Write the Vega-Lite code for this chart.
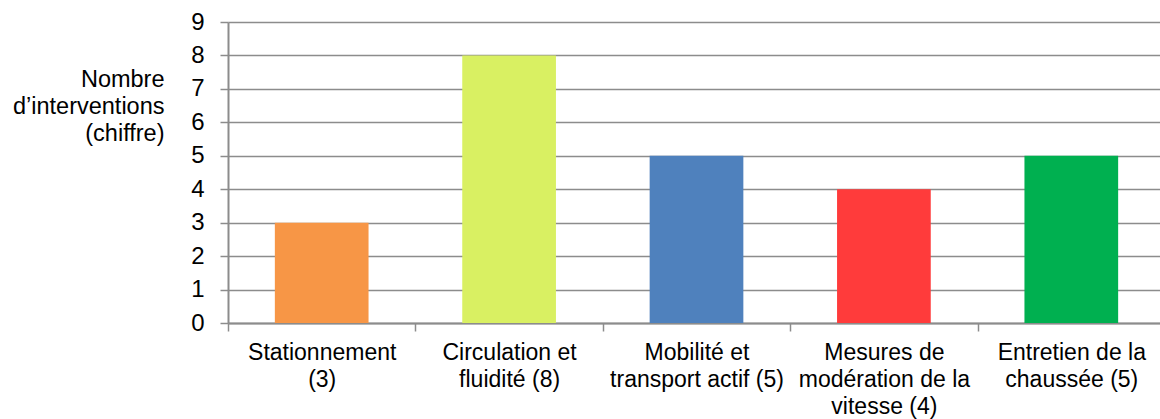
{
  "$schema": "https://vega.github.io/schema/vega-lite/v6.json",
  "autosize": "none",
  "width": 932,
  "height": 301,
  "padding": {"left": 228, "top": 22, "right": 0, "bottom": 96},
  "background": "white",
  "data": {
    "values": [
      {"categorie": "Stationnement\n(3)", "nombre": 3},
      {"categorie": "Circulation et\nfluidité (8)", "nombre": 8},
      {"categorie": "Mobilité et\ntransport actif (5)", "nombre": 5},
      {"categorie": "Mesures de\nmodération de la\nvitesse (4)", "nombre": 4},
      {"categorie": "Entretien de la\nchaussée (5)", "nombre": 5}
    ]
  },
  "mark": {"type": "bar", "width": {"band": 0.5}},
  "encoding": {
    "x": {
      "field": "categorie",
      "type": "nominal",
      "sort": null,
      "scale": {"range": [0, 937], "paddingInner": 0, "paddingOuter": 0},
      "axis": {
        "title": null,
        "labelAngle": 0,
        "labelExpr": "split(datum.label, '\\n')",
        "labelFont": "Liberation Sans",
        "labelFontSize": 23,
        "labelColor": "#000000",
        "labelLineHeight": 27,
        "labelBaseline": "top",
        "labelPadding": 10,
        "labelLimit": 400,
        "tickBand": "extent",
        "tickSize": 8,
        "tickColor": "#8c8c8c",
        "tickWidth": 1.5,
        "domainColor": "#8c8c8c",
        "domainWidth": 2,
        "grid": false
      }
    },
    "y": {
      "field": "nombre",
      "type": "quantitative",
      "scale": {"domain": [0, 9], "nice": false},
      "axis": {
        "values": [0, 1, 2, 3, 4, 5, 6, 7, 8, 9],
        "title": ["Nombre", "d’interventions", "(chiffre)"],
        "titleAngle": 0,
        "titleAlign": "right",
        "titleBaseline": "top",
        "titleX": -64,
        "titleY": 45,
        "titleFont": "Liberation Sans",
        "titleFontSize": 23.5,
        "titleFontWeight": "normal",
        "titleColor": "#000000",
        "titleLineHeight": 27,
        "labelFont": "Liberation Sans",
        "labelFontSize": 24,
        "labelColor": "#000000",
        "labelPadding": 16,
        "tickSize": 8,
        "tickColor": "#8c8c8c",
        "tickWidth": 1.5,
        "domainColor": "#8c8c8c",
        "domainWidth": 2,
        "grid": true,
        "gridColor": "#8c8c8c",
        "gridWidth": 1.5
      }
    },
    "color": {
      "field": "categorie",
      "type": "nominal",
      "legend": null,
      "scale": {
        "domain": ["Stationnement\n(3)", "Circulation et\nfluidité (8)", "Mobilité et\ntransport actif (5)", "Mesures de\nmodération de la\nvitesse (4)", "Entretien de la\nchaussée (5)"],
        "range": ["#F79646", "#D9F062", "#4F81BD", "#FF3B3B", "#00B050"]
      }
    }
  },
  "config": {"view": {"stroke": null}}
}
